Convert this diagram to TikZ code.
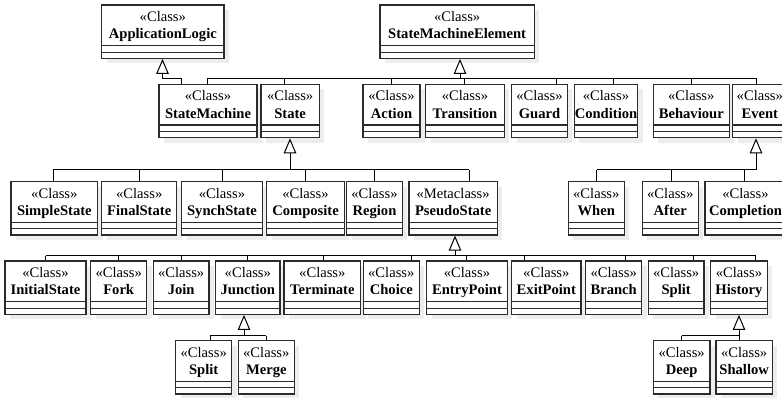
\documentclass[tikz,border=0pt]{standalone}
\usepackage{fontspec}
\setmainfont{Liberation Serif}
\usetikzlibrary{arrows.meta,fit,calc}

\definecolor{boxline}{HTML}{2B2B2B}
\definecolor{shade}{HTML}{EDEDED}

\tikzset{
  classbox/.style={rectangle, draw=boxline, line width=1.2pt, fill=white, inner sep=0pt},
  shadowbox/.style={fill=shade},
  compline/.style={draw=boxline, line width=1.1pt},
  stereo/.style={font=\fontsize{14.6}{16}\selectfont, inner sep=0pt, anchor=base},
  cname/.style={font=\fontsize{14.6}{16}\selectfont\bfseries, inner sep=0pt, anchor=base},
  link/.style={draw=black, line width=1pt},
  gen/.style={link, -{Triangle[open, length=15pt, width=12.5pt, line width=1pt]}},
}

% UML class box: name, left, top, right, bottom, stereotype, class name
\newcommand\umlclass[7]{%
  \fill[shadowbox] (#2+5,#3+5) rectangle (#4+5,#5+5);
  \node[classbox, fit={(#2,#3) (#4,#5)}] (#1) {};
  \node[stereo] (#1-st) at ($(#1.north)+(0,17)$) {«#6»};
  \node[cname] (#1-nm) at ($(#1.north)+(0,34.5)$) {#7};
  \draw[compline] ($(#1.south west)+(0,-13.3)$) -- ($(#1.south east)+(0,-13.3)$);
  \draw[compline] ($(#1.south west)+(0,-6.7)$) -- ($(#1.south east)+(0,-6.7)$);
}
% vertical link from the top of a child box up to a bus
\newcommand\childlink[3]{\draw[link] (#2,0 |- #1.north) -- (#2,0 |- #3);}

\begin{document}
\begin{tikzpicture}[x=1pt,y=-1pt]
\useasboundingbox (0,0) rectangle (782,398);
\clip (0,0) rectangle (782,398);

% ---- top level
\umlclass{al}{101.7}{5}{224}{58.3}{Class}{ApplicationLogic}
\umlclass{sme}{380}{5}{534.3}{58.3}{Class}{StateMachineElement}

% ---- state machine elements
\umlclass{sm}{159}{84.3}{257}{137.7}{Class}{StateMachine}
\umlclass{st}{261}{84.3}{319.3}{137.7}{Class}{State}
\umlclass{act}{363}{84.3}{420}{137.7}{Class}{Action}
\umlclass{tr}{425.7}{84.3}{504.3}{137.7}{Class}{Transition}
\umlclass{gu}{511.7}{84.3}{567.3}{137.7}{Class}{Guard}
\umlclass{co}{574.3}{84.3}{637.7}{137.7}{Class}{Condition}
\umlclass{be}{653.3}{84.3}{729.3}{137.7}{Class}{Behaviour}
\umlclass{ev}{732.7}{84.3}{787}{137.7}{Class}{Event}

% ---- kinds of state and event
\umlclass{ss}{11}{181.7}{97.7}{235}{Class}{SimpleState}
\umlclass{fs}{101.7}{181.7}{176.7}{235}{Class}{FinalState}
\umlclass{sy}{181.7}{181.7}{262.3}{235}{Class}{SynchState}
\umlclass{cp}{266.7}{181.7}{344.3}{235}{Class}{Composite}
\umlclass{rg}{346.7}{181.7}{402.3}{235}{Class}{Region}
\umlclass{ps}{409}{181.7}{497.3}{235}{Metaclass}{PseudoState}
\umlclass{wh}{568.3}{181.7}{624.3}{235}{Class}{When}
\umlclass{af}{642.3}{181.7}{698.3}{235}{Class}{After}
\umlclass{cm}{705}{181.7}{786}{235}{Class}{Completion}

% ---- pseudo states
\umlclass{is}{5}{261}{86}{314.3}{Class}{InitialState}
\umlclass{fk}{90.7}{261}{146.7}{314.3}{Class}{Fork}
\umlclass{jn}{153.3}{261}{209}{314.3}{Class}{Join}
\umlclass{ju}{215.7}{261}{280}{314.3}{Class}{Junction}
\umlclass{te}{284}{261}{360.7}{314.3}{Class}{Terminate}
\umlclass{ch}{363.3}{261}{419.3}{314.3}{Class}{Choice}
\umlclass{en}{426.7}{261}{507.3}{314.3}{Class}{EntryPoint}
\umlclass{ex}{511.7}{261}{581}{314.3}{Class}{ExitPoint}
\umlclass{br}{585.7}{261}{641.7}{314.3}{Class}{Branch}
\umlclass{sp}{648.3}{261}{704}{314.3}{Class}{Split}
\umlclass{hi}{710.7}{261}{767.3}{314.3}{Class}{History}

% ---- junction and history kinds
\umlclass{jsp}{175.7}{340.7}{231.7}{394}{Class}{Split}
\umlclass{me}{238.3}{340.7}{294.3}{394}{Class}{Merge}
\umlclass{dp}{653.3}{340.7}{710}{394}{Class}{Deep}
\umlclass{sh}{716}{340.7}{772.3}{394}{Class}{Shallow}

% ---- generalisation: StateMachine -> ApplicationLogic
\coordinate (al-bus) at (162.5,79);
\draw[link] (181.7,0 |- sm.north) |- (al-bus);
\draw[gen] (al-bus) -- (al-bus |- al.south);

% ---- generalisation: elements -> StateMachineElement
\coordinate (sme-bus) at (460,79);
\draw[link] (207.3,0 |- sme-bus) -- (756.7,0 |- sme-bus);
\childlink{sm}{207.3}{sme-bus}
\childlink{st}{284}{sme-bus}
\childlink{act}{391.7}{sme-bus}
\childlink{tr}{464.3}{sme-bus}
\childlink{gu}{556.7}{sme-bus}
\childlink{co}{613.3}{sme-bus}
\childlink{be}{691.7}{sme-bus}
\childlink{ev}{756.7}{sme-bus}
\draw[gen] (sme-bus) -- (sme-bus |- sme.south);

% ---- generalisation: kinds of state -> State
\coordinate (st-bus) at (290,170);
\draw[link] (53.3,0 |- st-bus) -- (469,0 |- st-bus);
\childlink{ss}{53.3}{st-bus}
\childlink{fs}{139}{st-bus}
\childlink{sy}{222.3}{st-bus}
\childlink{cp}{305}{st-bus}
\childlink{rg}{374.3}{st-bus}
\childlink{ps}{469}{st-bus}
\draw[gen] (st-bus) -- (st-bus |- st.south);

% ---- generalisation: kinds of event -> Event
\coordinate (ev-bus) at (756,170);
\draw[link] (596.7,0 |- ev-bus) -- (ev-bus);
\childlink{wh}{596.7}{ev-bus}
\childlink{af}{671}{ev-bus}
\childlink{cm}{744.3}{ev-bus}
\draw[gen] (ev-bus) -- (ev-bus |- ev.south);

% ---- generalisation: pseudo states -> PseudoState
\coordinate (ps-bus) at (455,255.7);
\draw[link] (45.7,0 |- ps-bus) -- (755.7,0 |- ps-bus);
\childlink{is}{45.7}{ps-bus}
\childlink{fk}{118.3}{ps-bus}
\childlink{jn}{181}{ps-bus}
\childlink{ju}{247.7}{ps-bus}
\childlink{te}{323.3}{ps-bus}
\childlink{ch}{411.7}{ps-bus}
\childlink{en}{466}{ps-bus}
\childlink{ex}{524.3}{ps-bus}
\childlink{br}{625}{ps-bus}
\childlink{sp}{693.3}{ps-bus}
\childlink{hi}{755.7}{ps-bus}
\draw[gen] (ps-bus) -- (ps-bus |- ps.south);

% ---- generalisation: Split, Merge -> Junction
\coordinate (ju-bus) at (244,335.7);
\draw[link] (210,0 |- ju-bus) -- (266,0 |- ju-bus);
\childlink{jsp}{210}{ju-bus}
\childlink{me}{266}{ju-bus}
\draw[gen] (ju-bus) -- (ju-bus |- ju.south);

% ---- generalisation: Deep, Shallow -> History
\coordinate (hi-bus) at (739,335.7);
\draw[link] (681.7,0 |- hi-bus) -- (hi-bus);
\childlink{dp}{681.7}{hi-bus}
\childlink{sh}{739}{hi-bus}
\draw[gen] (hi-bus) -- (hi-bus |- hi.south);
\end{tikzpicture}
\end{document}
